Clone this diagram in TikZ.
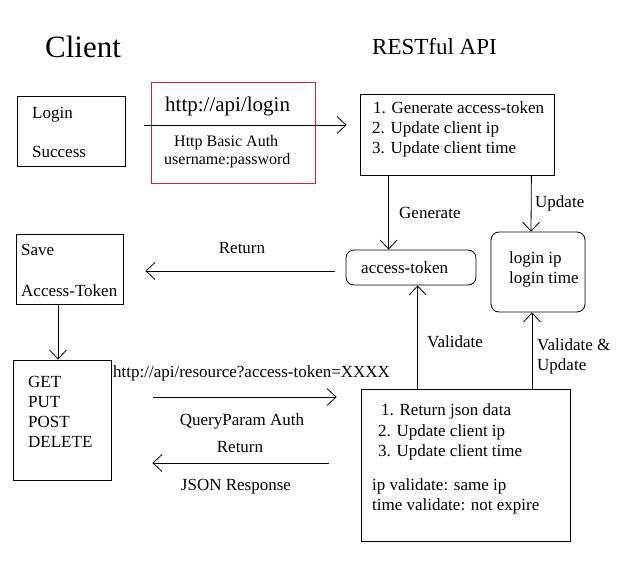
\documentclass[tikz,border=0pt]{standalone}
\usepackage{fontspec}
\setmainfont{Liberation Serif}
\usetikzlibrary{arrows.meta,calc}
\definecolor{boxred}{RGB}{204,37,48}
\tikzset{
  box/.style={draw, line width=0.8pt, inner sep=0pt},
  redbox/.style={draw=boxred, line width=1pt, inner sep=0pt},
  rbox/.style={draw, line width=0.8pt, rounded corners=8pt, inner sep=0pt},
  arr/.style={line width=0.8pt, -{Straight Barb[length=9pt,width=17pt]}},
  txt/.style={anchor=base west, inner sep=0pt, font=\fontsize{17}{20}\selectfont},
  stxt/.style={anchor=base west, inner sep=0pt, font=\fontsize{16}{18}\selectfont},
  ctxt/.style={anchor=base, inner sep=0pt, font=\fontsize{17}{20}\selectfont},
}
\begin{document}
\begin{tikzpicture}[x=1pt, y=-1pt]
\useasboundingbox (0,0) rectangle (627,562);
% boxes
\node[box, minimum width=108pt, minimum height=70pt] (login) at (71,131) {};
\node[redbox, minimum width=164pt, minimum height=101pt] (req) at (233,132.5) {};
\node[box, minimum width=194pt, minimum height=81pt] (api1) at (457,134.5) {};
\node[rbox, minimum width=130pt, minimum height=35pt] (token) at (411,267.5) {};
\node[rbox, minimum width=94pt, minimum height=80pt] (state) at (538,272) {};
\node[box, minimum width=107pt, minimum height=70pt] (save) at (69.5,269) {};
\node[box, minimum width=98pt, minimum height=120pt] (verbs) at (62,420) {};
\node[box, minimum width=209pt, minimum height=152pt] (api2) at (465.5,465) {};
% titles
\node[anchor=base west, inner sep=0pt, font=\fontsize{31}{34}\selectfont] (tclient) at (45,57) {Client};
\node[anchor=base west, inner sep=0pt, font=\fontsize{23}{26}\selectfont] (tapi) at (372,54) {RESTful API};
% login box
\node[txt] (tlogin) at (32,118) {Login};
\node[txt] (tsuccess) at (32,157) {Success};
% request box
\node[anchor=base west, inner sep=0pt, font=\fontsize{21}{24}\selectfont] (turl1) at (165,111) {http://api/login};
\node[stxt] (tbasic) at (174,146) {Http Basic Auth};
\node[stxt] (tuser) at (164,164) {username:password};
% api1
\node[txt] (ta1) at (373,113) {1. Generate access-token};
\node[txt] (ta2) at (372,133) {2. Update client ip};
\node[txt] (ta3) at (372,153) {3. Update client time};
\node[txt] (tgen) at (399,218) {Generate};
\node[txt] (tupd) at (535,207) {Update};
% token and state
\node[txt] (ttok) at (361,273) {access-token};
\node[txt] (tip) at (509,263) {login ip};
\node[txt] (ttime) at (509,283) {login time};
% save
\node[ctxt] (tret1) at (242,253) {Return};
\node[txt] (tsave) at (21,255) {Save};
\node[txt] (tacc) at (21,296) {Access-Token};
% verbs
\node[txt] (tget) at (28,387) {GET};
\node[txt] (tput) at (28,407) {PUT};
\node[txt] (tpost) at (28,427) {POST};
\node[txt] (tdel) at (28,447) {DELETE};
% request 2
\node[txt] (turl2) at (113,377) {http://api/resource?access-token=XXXX};
\node[ctxt] (tqp) at (242,425) {QueryParam Auth};
\node[ctxt] (tret2) at (240,452) {Return};
\node[ctxt] (tjson) at (236,490) {JSON Response};
\node[txt] (tval) at (427,347) {Validate};
\node[txt] (tvu1) at (537,350) {Validate \&};
\node[txt] (tvu2) at (537,370) {Update};
% api2
\node[txt] (tb1) at (381,415) {1. Return json data};
\node[txt] (tb2) at (378,436) {2. Update client ip};
\node[txt] (tb3) at (378,456) {3. Update client time};
\node[txt] (tb4) at (372,490) {ip validate: same ip};
\node[txt] (tb5) at (372,510) {time validate: not expire};
% connectors
\draw[arr] ($(login.east)+(19,-6)$) -- ($(api1.west)+(-13,-9.5)$);
\draw[arr] ($(api1.south west)+(29,0)$) -- ($(token.north west)+(43,0)$);
\draw[arr] ($(api1.south east)+(-23,0)$) -- ($(state.north)+(-7,0)$);
\draw[arr] ($(token.west)+(-11,3.5)$) -- ($(save.east)+(22,2)$);
\draw[arr] ($(save.south)+(-11.5,0)$) -- ($(verbs.north)+(-4,0)$);
\draw[arr] ($(verbs.east)+(42,-23)$) -- ($(api2.west)+(-24,-68)$);
\draw[arr] ($(api2.west)+(-32,-2)$) -- ($(verbs.east)+(41,43)$);
\draw[arr] ($(api2.north west)+(57,0)$) -- ($(token.south west)+(72,0)$);
\draw[arr] ($(api2.north)+(66.5,0)$) -- ($(state.south)+(-6,0)$);
\end{tikzpicture}
\end{document}
